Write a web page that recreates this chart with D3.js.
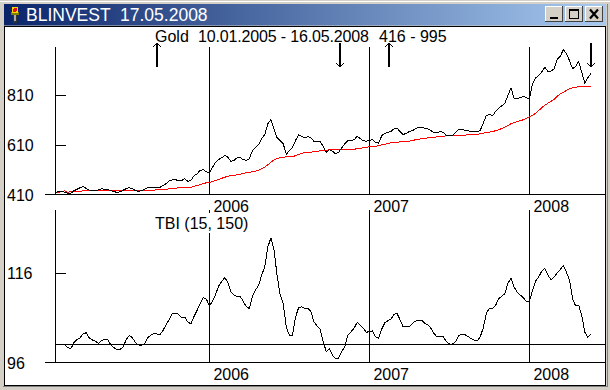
<!DOCTYPE html>
<html>
<head>
<meta charset="utf-8">
<script src="https://cdn.jsdelivr.net/npm/d3@7"></script>
<style>
html, body { margin: 0; padding: 0; background: #d4d0c8; overflow: hidden; }
text { font-family: "Liberation Sans", Arial, sans-serif; font-size: 16px; fill: #000; }
.crisp { shape-rendering: crispEdges; }
</style>
</head>
<body>
<div id="chart"></div>
<script>
// weekly closes, week 0 = 14.01.2005
let gold = [419,421,422,419,415,415,425,431,437,441,434,427,426,425,429,433,431,429,425,421,
    419,421,427,434,437,433,425,423,425,431,438,438,437,437,439,446,454,465,469,469,
    466,466,473,463,466,485,493,506,510,501,497,519,538,550,557,566,559,543,546,557,
    559,549,547,553,586,597,610,633,650,693,709,673,637,626,613,570,586,598,626,649,
    642,637,642,637,622,622,621,603,579,590,583,573,579,597,613,625,626,629,642,634,
    625,623,626,630,619,615,645,655,658,662,673,675,661,650,655,662,665,673,679,679,
    675,673,666,657,657,663,658,647,646,646,657,670,671,667,665,662,661,661,666,695,
    726,730,725,742,755,765,774,806,837,795,794,798,802,798,791,853,877,885,901,919,
    903,903,913,950,962,990,973,946,913,922,942,899,855,877,895]

// red moving average, same weeks
let goldAverage = [419,419,422,425,419,421,421,422,423,425,425,425,425,425,425,425,425,425,425,425,
    425,425,425,425,425,425,425,425,425,425,426,426,427,429,429,430,431,433,434,435,
    437,438,438,438,439,443,446,450,453,457,458,461,466,470,475,479,483,485,486,489,
    491,494,497,498,501,503,507,513,519,529,539,549,553,557,559,561,561,562,565,570,
    574,578,579,579,581,582,585,586,587,589,589,589,589,589,589,589,590,591,593,594,
    597,598,601,602,603,605,609,611,614,617,618,619,621,622,622,623,626,629,631,633,
    634,637,638,639,641,642,643,645,645,645,645,645,646,647,649,650,650,651,653,655,
    658,659,662,665,669,674,679,686,693,697,701,705,709,715,721,727,735,746,757,767,
    775,782,791,802,813,819,826,833,837,839,841,842,842,842,842]

// TBI starts a few weeks later than the price
let tbiStart = 3
let tbi = [99.9,99.3,99.1,100.4,101.1,101.5,102.4,102.6,101.4,101.0,100.7,100.2,100.9,101.1,101.0,99.9,99.3,
    98.8,98.9,99.5,101.1,102.0,101.5,100.4,99.9,99.8,100.2,101.5,102.1,102.5,102.3,102.2,103.2,104.5,105.6,107.0,107.0,
    106.7,106.0,106.1,105.0,104.6,106.2,107.6,109.1,110.4,110.1,108.6,109.6,111.1,113.0,114.0,114.9,113.8,111.7,111.0,110.7,
    110.7,109.6,108.4,108.0,110.7,112.1,113.2,115.4,117.3,121.7,123.7,121.0,115.4,111.0,109.1,103.8,102.1,102.1,106.1,108.2,
    108.4,108.0,108.0,107.3,105.0,104.1,103.4,100.6,98.4,99.0,97.6,96.9,97.0,98.5,99.5,102.1,102.8,103.6,104.9,104.3,
    103.6,102.7,102.9,103.0,101.7,101.4,103.4,104.8,105.3,105.6,106.7,106.9,105.4,103.9,103.9,104.0,104.7,105.2,105.4,105.4,
    104.7,104.4,103.6,102.4,101.7,101.9,101.7,100.7,100.1,100.1,100.6,101.9,102.3,102.2,101.8,101.3,101.0,100.8,101.7,103.7,
    106.9,108.1,108.0,108.7,110.2,110.7,111.3,113.6,114.7,112.8,111.6,111.0,110.4,109.5,109.6,112.1,114.1,115.0,116.3,116.9,
    115.4,114.4,115.0,115.9,116.6,117.6,116.1,114.3,110.2,108.6,108.7,106.5,102.7,101.6,102.3]

let yearLabels = ["2006", "2007", "2008"]
let yearWeeks = [50, 102, 154]
let goldTicks = [410, 610, 810]
let tbiTicks = [96, 116]
let tbiLevel = 100
// buy / sell signal arrows
let signalWeeks = [33, 92.5, 108.5, 174]
let signalKinds = ["up", "down", "up", "down"]

let svg = d3.select("#chart").append("svg")
    .attr("width", 610)
    .attr("height", 390)
    .style("display", "block")

// window frame
let defs = svg.append("defs")
let grad = defs.append("linearGradient").attr("id", "titlebar")
grad.append("stop").attr("offset", "0%").attr("stop-color", "#0a246a")
grad.append("stop").attr("offset", "100%").attr("stop-color", "#a6caf0")

svg.append("rect").attr("width", 610).attr("height", 390).attr("fill", "#d4d0c8")
svg.append("rect").attr("width", 610).attr("height", 1).attr("y", 1).attr("fill", "#fff")
svg.append("rect").attr("x", 4).attr("y", 4).attr("width", 602).attr("height", 21.5).attr("fill", "url(#titlebar)")
svg.append("rect").attr("class", "crisp")
    .attr("x", 4.5).attr("y", 26.5).attr("width", 601).attr("height", 358.5)
    .attr("fill", "#fff").attr("stroke", "#000")
svg.append("rect").attr("class", "crisp").attr("x", 3).attr("y", 386).attr("width", 604).attr("height", 1).attr("fill", "#808080")
svg.append("rect").attr("class", "crisp").attr("x", 607).attr("y", 4).attr("width", 1).attr("height", 383).attr("fill", "#808080")

svg.append("text")
    .attr("x", 26).attr("y", 21)
    .attr("xml:space", "preserve")
    .style("fill", "#fff").style("font-size", "17.5px")
    .text("BLINVEST  17.05.2008")

// little torch icon
let icon = svg.append("g").attr("class", "crisp")
icon.append("rect").attr("x", 13).attr("y", 14).attr("width", 4).attr("height", 9).attr("fill", "#333")
icon.append("rect").attr("x", 14).attr("y", 15).attr("width", 2).attr("height", 6).attr("fill", "#aaa")
icon.append("rect").attr("x", 11).attr("y", 12).attr("width", 8).attr("height", 3).attr("fill", "#808000")
icon.append("circle").attr("cx", 15).attr("cy", 10).attr("r", 3.5).attr("fill", "#f6d800")
icon.append("circle").attr("cx", 15).attr("cy", 10).attr("r", 2).attr("fill", "#e01010")

// caption buttons
let buttons = [545, 564.5, 585]
buttons.forEach((bx, i) => {
    let b = svg.append("g").attr("class", "crisp").attr("transform", "translate(" + bx + ",6)")
    b.append("rect").attr("width", 18).attr("height", 16).attr("fill", "#404040")
    b.append("rect").attr("width", 17).attr("height", 15).attr("fill", "#fff")
    b.append("rect").attr("x", 1).attr("y", 1).attr("width", 16).attr("height", 14).attr("fill", "#d4d0c8")
    if (i == 0) {
        b.append("rect").attr("x", 5).attr("y", 11).attr("width", 8).attr("height", 2).attr("fill", "#000")
    } else if (i == 1) {
        b.append("rect").attr("x", 4.5).attr("y", 3.5).attr("width", 9).attr("height", 9)
            .attr("fill", "none").attr("stroke", "#000")
        b.append("rect").attr("x", 4).attr("y", 3).attr("width", 10).attr("height", 2).attr("fill", "#000")
    } else {
        b.append("path").attr("d", "M5,3.5L13,12.5M13,3.5L5,12.5")
            .attr("stroke", "#000").attr("stroke-width", 2.2).style("shape-rendering", "auto")
    }
})

// scales, the two panels share x
let x = d3.scaleLinear().domain([0, 174]).range([55.5, 591])
let yGold = d3.scaleLinear().domain([410, 810]).range([194.5, 94.5])
let yTbi = d3.scaleLinear().domain([96, 116]).range([362.5, 272.5])

let panelRight = 605

function drawPanel(y, ticks, top) {
    let bottom = y(ticks[0])
    let g = svg.append("g").attr("class", "crisp")

    // year lines
    g.selectAll(".year").data(yearWeeks).enter().append("line")
        .attr("x1", d => x(d)).attr("x2", d => x(d))
        .attr("y1", top).attr("y2", bottom)
        .attr("stroke", "#000")

    // left axis, ticks cross the axis line
    let axis = d3.axisLeft(y).tickValues(ticks).tickSize(10).tickSizeOuter(0)
    let axisG = g.append("g").attr("transform", "translate(55.5,0)").call(axis)
    axisG.select(".domain").remove()
    axisG.selectAll(".tick line").attr("x2", d => d == ticks[0] ? 0 : 10).attr("stroke", "#000")
    axisG.selectAll(".tick text")
        .attr("x", -48.5).attr("dy", "0.36em")
        .attr("text-anchor", "start")
        .style("font-family", "\"Liberation Sans\", Arial, sans-serif").style("font-size", "16px")
    g.append("line").attr("x1", 55.5).attr("x2", 55.5).attr("y1", top).attr("y2", bottom).attr("stroke", "#000")
    g.append("line").attr("x1", 45).attr("x2", panelRight).attr("y1", bottom).attr("y2", bottom).attr("stroke", "#000")
}

drawPanel(yGold, goldTicks, 47)
drawPanel(yTbi, tbiTicks, 210)

// level line of TBI
svg.append("line").attr("class", "crisp")
    .attr("x1", 55.5).attr("x2", panelRight)
    .attr("y1", yTbi(tbiLevel)).attr("y2", yTbi(tbiLevel))
    .attr("stroke", "#000")

let goldLine = d3.line().x((d, i) => x(i)).y(d => yGold(d))
let tbiLine = d3.line().x((d, i) => x(i + tbiStart)).y(d => yTbi(d))

svg.append("path").datum(goldAverage).attr("class", "crisp")
    .attr("d", goldLine).attr("fill", "none").attr("stroke", "#ff0000")
svg.append("path").datum(gold).attr("class", "crisp")
    .attr("d", goldLine).attr("fill", "none").attr("stroke", "#000")
svg.append("path").datum(tbi).attr("class", "crisp")
    .attr("d", tbiLine).attr("fill", "none").attr("stroke", "#000")

// titles, three pieces so the gaps match
let goldTitle = svg.append("text").attr("y", 42)
goldTitle.append("tspan").attr("x", 155).text("Gold")
goldTitle.append("tspan").attr("x", 198).attr("textLength", 171).text("10.01.2005 - 16.05.2008")
goldTitle.append("tspan").attr("x", 379).text("416 - 995")

// TBI caption has a white box that hides a part of the 2006 line
svg.append("rect").attr("x", 155).attr("y", 213).attr("width", 93).attr("height", 20).attr("fill", "#fff")
svg.append("text").attr("x", 155).attr("y", 229).text("TBI (15, 150)")

// year labels, both rows
svg.selectAll(".yearTop").data(yearWeeks).enter().append("text")
    .attr("x", d => x(d) + 4).attr("y", 212)
    .text((d, i) => yearLabels[i])
svg.selectAll(".yearBottom").data(yearWeeks).enter().append("text")
    .attr("x", d => x(d) + 4).attr("y", 380)
    .text((d, i) => yearLabels[i])

// signal arrows
signalWeeks.forEach((w, i) => {
    let ax = Math.round(x(w))
    let up = signalKinds[i] == "up"
    let tip = up ? 43 : 67
    let dir = up ? 1 : -1
    let a = svg.append("g").attr("class", "crisp")
    a.append("rect").attr("x", ax - 1).attr("y", 43).attr("width", 2).attr("height", 24).attr("fill", "#000")
    a.append("path")
        .attr("d", "M" + (ax - 4) + "," + (tip + dir * 4) + "L" + ax + "," + tip + "L" + (ax + 4) + "," + (tip + dir * 4))
        .attr("fill", "none").attr("stroke", "#000")
})
</script>
</body>
</html>
